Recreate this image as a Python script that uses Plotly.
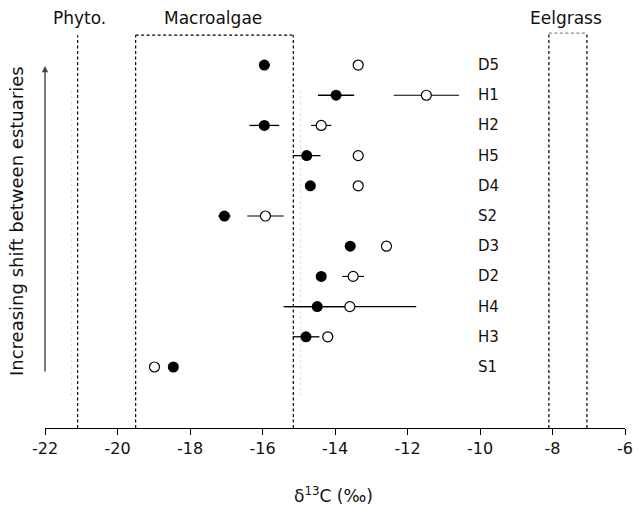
import plotly.graph_objects as go

# Sites, top to bottom
sites = ["D5", "H1", "H2", "H5", "D4", "S2", "D3", "D2", "H4", "H3", "S1"]
filled_x = [-15.95, -13.97, -15.95, -14.78, -14.68, -17.05, -13.58, -14.38, -14.49, -14.80, -18.46]
filled_err = [0.15, 0.50, 0.41, 0.38, 0.05, 0.17, 0.05, 0.05, 0.89, 0.37, 0.05]
open_x = [-13.36, -11.48, -14.38, -13.36, -13.36, -15.92, -12.58, -13.50, -13.59, -14.20, -18.98]
open_err = [0.12, 0.90, 0.28, 0.05, 0.05, 0.50, 0.05, 0.30, 1.83, 0.15, 0.05]

# Source ranges (d13C)
phyto_x = -21.1
macro_range = [-19.5, -15.15]
eel_range = [-8.1, -7.05]
x_ticks = [-22, -20, -18, -16, -14, -12, -10, -8, -6]

FONT = "DejaVu Sans, Liberation Sans, sans-serif"

fig = go.Figure()
fig.add_trace(go.Scatter(
    x=filled_x, y=sites, mode="markers",
    marker=dict(symbol="circle", size=11, color="black"),
    error_x=dict(type="data", array=filled_err, symmetric=True, color="black",
                 thickness=1.3, width=0),
    showlegend=False))
fig.add_trace(go.Scatter(
    x=open_x, y=sites, mode="markers",
    marker=dict(symbol="circle", size=10, color="white",
                line=dict(color="black", width=1.2)),
    error_x=dict(type="data", array=open_err, symmetric=True, color="black",
                 thickness=1.1, width=0),
    showlegend=False))

top = 0.987
dash = dict(color="black", width=1.2, dash="3px,2.5px")
ghost = dict(color="#e4e4e4", width=1.2, dash="3px,2.5px")

# faint scanned ghost lines
for xv in [phyto_x - 0.17, macro_range[0] - 0.05, macro_range[1] + 0.2, eel_range[0] + 0.02, eel_range[1] + 0.05]:
    fig.add_shape(type="line", xref="x", yref="paper", x0=xv, x1=xv,
                  y0=0.08, y1=0.85, line=ghost, layer="below")

# Phyto line
fig.add_shape(type="line", xref="x", yref="paper", x0=phyto_x, x1=phyto_x,
              y0=0, y1=top, line=dash, layer="below")
# Macroalgae box
for xv in macro_range:
    fig.add_shape(type="line", xref="x", yref="paper", x0=xv, x1=xv,
                  y0=0, y1=top, line=dash, layer="below")
fig.add_shape(type="line", xref="x", yref="paper", x0=macro_range[0], x1=macro_range[1],
              y0=top, y1=top, line=dash, layer="below")
# Eelgrass box
for xv in eel_range:
    fig.add_shape(type="line", xref="x", yref="paper", x0=xv, x1=xv,
                  y0=0, y1=top + 0.005, line=dash, layer="below")
fig.add_shape(type="line", xref="x", yref="paper", x0=eel_range[0], x1=eel_range[1],
              y0=top + 0.005, y1=top + 0.005,
              line=dict(color="#888888", width=1.2, dash="3px,2.5px"), layer="below")

# Top labels
for txt, xv in [("Phyto.", -21.05), ("Macroalgae", -17.36), ("Eelgrass", -7.63)]:
    fig.add_annotation(text=txt, x=xv, xref="x", y=1.03, yref="paper",
                       showarrow=False, font=dict(family=FONT, size=17, color="#111111"),
                       xanchor="center", yanchor="middle")

# Row labels
for s in sites:
    fig.add_annotation(text=s, x=-10.12, xref="x", y=s, yref="y", showarrow=False,
                       xanchor="left", yanchor="middle",
                       font=dict(family=FONT, size=15, color="#111111"))

# Arrow
fig.add_annotation(x=-22, xref="x", y=(428 - 66) / 398, yref="paper",
                   ax=0, ay=307, text="", showarrow=True, arrowhead=2,
                   arrowsize=0.9, arrowwidth=1.4, arrowcolor="#444444")
# Left title
fig.add_annotation(text="Increasing shift between estuaries", x=-0.05, xref="paper",
                   y=(428 - 221) / 398, yref="paper", textangle=-90, showarrow=False,
                   xanchor="center", yanchor="middle",
                   font=dict(family=FONT, size=18, color="#111111"))
# X title
fig.add_annotation(text="δ<sup>13</sup>C (‰)", x=(337 - 45) / 588, xref="paper",
                   y=(428 - 495) / 398, yref="paper", showarrow=False,
                   xanchor="center", yanchor="middle",
                   font=dict(family=FONT, size=17, color="#111111"))

fig.update_xaxes(range=[-22, -6], tickvals=x_ticks, ticktext=[str(v) for v in x_ticks],
                 showgrid=False, zeroline=False, showline=True, linecolor="black",
                 linewidth=1.2, ticks="outside", ticklen=6, tickcolor="black",
                 tickfont=dict(family=FONT, size=16, color="#111111"))
fig.update_yaxes(type="category", categoryorder="array", categoryarray=sites,
                 range=[12.02, -1.16], showgrid=False, zeroline=False,
                 showline=False, showticklabels=False, ticks="")

fig.update_layout(width=641, height=513, margin=dict(l=45, r=8, t=30, b=85),
                  plot_bgcolor="white", paper_bgcolor="white",
                  font=dict(family=FONT))
fig.write_html("out.html")
